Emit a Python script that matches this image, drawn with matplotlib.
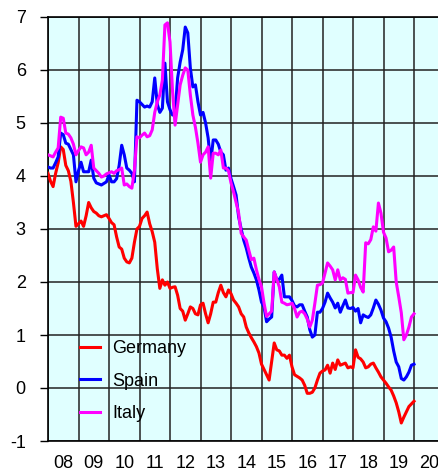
import numpy as np
import matplotlib
matplotlib.use('Agg')
import matplotlib.pyplot as plt
from matplotlib.ticker import FixedLocator, NullFormatter

# monthly 10-year yields, Jan 2008 .. Jan 2020
germany = [
    4.05, 3.90, 3.80, 4.05, 4.25, 4.55, 4.50, 4.20, 4.10, 3.90, 3.50, 3.05,
    3.10, 3.15, 3.05, 3.25, 3.50, 3.40, 3.33, 3.30, 3.25, 3.23, 3.25, 3.27,
    3.20, 3.12, 3.08, 2.85, 2.66, 2.62, 2.45, 2.38, 2.36, 2.45, 2.75, 3.00,
    3.05, 3.20, 3.25, 3.32, 3.10, 2.95, 2.75, 2.25, 1.88, 2.04, 1.94, 2.00,
    1.88, 1.90, 1.91, 1.75, 1.50, 1.45, 1.28, 1.40, 1.53, 1.50, 1.40, 1.38,
    1.57, 1.60, 1.40, 1.23, 1.40, 1.62, 1.62, 1.80, 1.94, 1.80, 1.72, 1.85,
    1.78, 1.66, 1.60, 1.53, 1.40, 1.34, 1.15, 1.04, 0.95, 0.87, 0.78, 0.66,
    0.45, 0.35, 0.25, 0.15, 0.50, 0.85, 0.72, 0.70, 0.62, 0.62, 0.56, 0.62,
    0.40, 0.25, 0.22, 0.19, 0.15, 0.05, -0.10, -0.10, -0.08, 0.00, 0.15, 0.28,
    0.32, 0.34, 0.43, 0.28, 0.47, 0.35, 0.53, 0.43, 0.45, 0.47, 0.38, 0.40,
    0.38, 0.72, 0.58, 0.55, 0.49, 0.38, 0.40, 0.45, 0.47, 0.38, 0.30, 0.21,
    0.15, 0.09, 0.02, -0.04, -0.15, -0.28, -0.45, -0.66, -0.55, -0.45, -0.35, -0.30,
    -0.25,
]
spain = [
    4.17, 4.15, 4.15, 4.25, 4.36, 4.81, 4.78, 4.62, 4.60, 4.50, 4.40, 3.89,
    4.10, 4.26, 4.08, 4.08, 4.08, 4.30, 3.96, 3.87, 3.85, 3.83, 3.86, 3.89,
    4.02, 3.89, 3.89, 3.95, 4.20, 4.58, 4.40, 4.15, 4.11, 4.05, 3.89, 5.43,
    5.40, 5.35, 5.30, 5.32, 5.30, 5.40, 5.85, 5.35, 5.20, 5.28, 6.13, 5.40,
    5.25, 5.15, 5.20, 5.85, 6.15, 6.38, 6.81, 6.70, 6.04, 5.68, 5.72, 5.40,
    5.15, 5.20, 5.00, 4.72, 4.25, 4.68, 4.68, 4.60, 4.45, 4.40, 4.11, 4.15,
    3.95, 3.80, 3.64, 3.23, 3.00, 2.79, 2.64, 2.45, 2.28, 2.17, 2.04, 1.85,
    1.62, 1.53, 1.25, 1.30, 1.34, 2.19, 2.04, 2.05, 2.13, 1.72, 1.72, 1.72,
    1.65, 1.55, 1.53, 1.57, 1.57, 1.45, 1.34, 1.10, 0.96, 1.00, 1.43, 1.43,
    1.50, 1.62, 1.79, 1.70, 1.62, 1.51, 1.60, 1.43, 1.55, 1.66, 1.51, 1.50,
    1.52, 1.45, 1.50, 1.23, 1.38, 1.35, 1.33, 1.38, 1.51, 1.66, 1.58, 1.47,
    1.32, 1.25, 1.13, 0.96, 0.70, 0.49, 0.40, 0.18, 0.15, 0.21, 0.30, 0.43,
    0.45,
]
italy = [
    4.40, 4.38, 4.36, 4.45, 4.53, 5.11, 5.09, 4.81, 4.79, 4.72, 4.60, 4.40,
    4.48, 4.55, 4.53, 4.40, 4.45, 4.58, 4.15, 4.10, 4.05, 3.98, 4.00, 4.04,
    4.06, 4.08, 4.05, 4.10, 4.12, 4.15, 3.83, 3.85, 3.80, 3.77, 4.11, 4.74,
    4.72, 4.77, 4.81, 4.74, 4.76, 4.87, 5.20, 5.40, 5.53, 5.81, 6.85, 6.89,
    6.53, 5.60, 4.96, 5.34, 5.72, 5.90, 6.04, 6.00, 5.53, 5.15, 4.92, 4.62,
    4.26, 4.40, 4.45, 4.55, 3.96, 4.43, 4.43, 4.40, 4.49, 4.15, 4.15, 4.10,
    3.87, 3.70, 3.50, 3.30, 2.92, 2.85, 2.79, 2.60, 2.42, 2.45, 2.23, 2.05,
    1.91, 1.60, 1.35, 1.40, 1.45, 2.19, 2.05, 1.91, 1.62, 1.60, 1.57, 1.58,
    1.60, 1.50, 1.34, 1.43, 1.45, 1.40, 1.30, 1.15, 1.28, 1.60, 1.94, 1.95,
    1.98, 2.17, 2.36, 2.30, 2.23, 2.04, 2.23, 2.04, 2.08, 2.05, 1.79, 1.80,
    1.80, 2.13, 2.04, 1.90, 1.81, 2.74, 2.72, 2.80, 3.04, 2.96, 3.49, 3.30,
    2.94, 2.83, 2.57, 2.60, 2.66, 2.00, 1.72, 1.42, 0.91, 1.00, 1.15, 1.34,
    1.40,
]
year_labels = ['08', '09', '10', '11', '12', '13', '14', '15', '16', '17', '18', '19', '20']

plt.rcParams['font.family'] = ['Liberation Sans', 'DejaVu Sans']
plt.rcParams['axes.unicode_minus'] = False

t = 2008 + np.arange(len(germany)) / 12.0

fig = plt.figure(figsize=(4.39, 4.72), dpi=100)
ax = fig.add_axes([48 / 439, 31 / 472, 391 / 439, 424 / 472])
ax.set_facecolor('#E0FFFF')

ax.plot(t, germany, color='#FF0000', lw=2.2, label='Germany', zorder=3)
ax.plot(t, spain, color='#0000FF', lw=2.2, label='Spain', zorder=3)
ax.plot(t, italy, color='#FF00FF', lw=2.2, label='Italy', zorder=3)

ax.set_xlim(2008, 2008 + 391 / 30.5)
ax.set_ylim(-1, 7)

ax.xaxis.set_major_locator(FixedLocator(np.arange(2008, 2021)))
ax.xaxis.set_major_formatter(NullFormatter())
ax.xaxis.set_minor_locator(FixedLocator(np.arange(2008, 2021) + 0.5))
ax.set_xticklabels(year_labels, minor=True)
ax.tick_params(axis='x', which='both', length=0, labelsize=13, pad=10)
ax.set_yticks(range(-1, 8))
ax.tick_params(axis='y', length=6, width=1, color='black', labelsize=13, pad=10)

ax.grid(True, color='#222222', lw=1.1, zorder=1)
ax.set_axisbelow(True)
for s in ['top', 'left', 'bottom']:
    ax.spines[s].set_color('black')
    ax.spines[s].set_linewidth(1.2)
ax.spines['right'].set_visible(False)

ax.legend(loc='lower left', bbox_to_anchor=(0.082, 0.045), frameon=False,
          fontsize=13, handlelength=1.1, handletextpad=0.67, labelspacing=0.85,
          borderaxespad=0, borderpad=0)

fig.savefig('out.png', dpi=100)
